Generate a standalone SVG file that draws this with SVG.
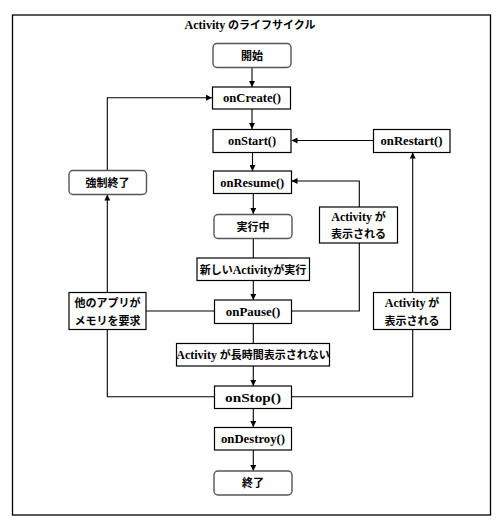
<svg xmlns="http://www.w3.org/2000/svg" width="504" height="528" viewBox="0 0 504 528">
<style>
  text { font-family: "Liberation Serif", "Noto Sans CJK JP", serif; font-weight: bold; font-size: 11px; fill: #000; text-anchor: middle; }
  .m { font-size: 12.5px; }
  .a { font-size: 12px; }
  .box { fill: #fff; stroke: #000; stroke-width: 1.2; }
  .rbox { fill: #fff; stroke: #555; stroke-width: 1.4; }
  .ln { fill: none; stroke: #000; stroke-width: 1.1; }
  .arr { marker-end: url(#ah); }
</style>
<defs>
  <marker id="ah" markerUnits="userSpaceOnUse" markerWidth="6" markerHeight="6" refX="6" refY="3" orient="auto">
    <path d="M0,0 L6,3 L0,6 z" fill="#000"/>
  </marker>
</defs>
<rect x="0" y="0" width="504" height="528" fill="#fff"/>
<rect x="12.5" y="15" width="478" height="500" fill="none" stroke="#000" stroke-width="1.3"/>
<text x="250" y="29"><tspan class="a">Activity</tspan> のライフサイクル</text>

<g id="connectors">
  <line class="ln arr" x1="252" y1="68" x2="252" y2="87"/>
  <line class="ln arr" x1="252" y1="109" x2="252" y2="129"/>
  <line class="ln arr" x1="252.5" y1="152" x2="252.5" y2="171"/>
  <line class="ln arr" x1="373" y1="140.5" x2="291.5" y2="140.5"/>
  <polyline class="ln arr" points="107.3,170 107.3,97.7 212,97.7"/>
  <line class="ln arr" x1="253.3" y1="193" x2="253.3" y2="214"/>
  <line class="ln" x1="253.3" y1="238" x2="253.3" y2="258"/>
  <line class="ln arr" x1="253.3" y1="280" x2="253.3" y2="300"/>
  <polyline class="ln" points="291,311 359.3,311 359.3,243"/>
  <polyline class="ln arr" points="359.3,207 359.3,181 291.5,181"/>
  <line class="ln" x1="214" y1="311" x2="146" y2="311"/>
  <line class="ln arr" x1="107.3" y1="292" x2="107.3" y2="194.5"/>
  <polyline class="ln" points="107.3,329 107.3,396.7 214,396.7"/>
  <line class="ln" x1="253.3" y1="323" x2="253.3" y2="343"/>
  <line class="ln arr" x1="253.3" y1="366" x2="253.3" y2="386"/>
  <polyline class="ln" points="291,396.7 412.7,396.7 412.7,329"/>
  <line class="ln arr" x1="412.7" y1="292" x2="412.7" y2="152.5"/>
  <line class="ln arr" x1="253.3" y1="408" x2="253.3" y2="427"/>
  <line class="ln arr" x1="253.3" y1="450" x2="253.3" y2="471"/>
</g>

<g id="start"><rect class="rbox" x="213" y="43.5" width="78" height="24" rx="4"/><text x="252" y="59.5">開始</text></g>
<g id="onCreate"><rect class="box" x="212.5" y="87" width="78" height="22"/><text class="m" x="252" y="102" textLength="58" lengthAdjust="spacingAndGlyphs">onCreate()</text></g>
<g id="onStart"><rect class="box" x="213" y="129.5" width="78" height="23"/><text class="m" x="252" y="145" textLength="48" lengthAdjust="spacingAndGlyphs">onStart()</text></g>
<g id="onRestart"><rect class="box" x="373.5" y="129.5" width="76.5" height="23"/><text class="m" x="411.5" y="145" textLength="62" lengthAdjust="spacingAndGlyphs">onRestart()</text></g>
<g id="onResume"><rect class="box" x="213.5" y="171" width="78" height="22.5"/><text class="m" x="252.3" y="186.5" textLength="64" lengthAdjust="spacingAndGlyphs">onResume()</text></g>
<g id="forceKill"><rect class="rbox" x="69" y="170.5" width="77.5" height="24" rx="4"/><text x="107.5" y="186.5">強制終了</text></g>
<g id="running"><rect class="rbox" x="214" y="214.5" width="78" height="24" rx="4"/><text x="253" y="230.5">実行中</text></g>
<g id="visible1"><rect class="box" x="319.5" y="207" width="78" height="36"/><text x="358.5" y="220.5"><tspan class="a">Activity</tspan> が</text><text x="358.5" y="238">表示される</text></g>
<g id="newActivity"><rect class="box" x="197" y="258" width="112.5" height="22.5"/><text x="253" y="273.5">新しい<tspan class="a">Activity</tspan>が実行</text></g>
<g id="otherApp"><rect class="box" x="69" y="292.5" width="77" height="37"/><text x="107.5" y="307">他のアプリが</text><text x="107.5" y="324.5">メモリを要求</text></g>
<g id="onPause"><rect class="box" x="214.5" y="300" width="77" height="23.5"/><text class="m" x="253" y="315.5" textLength="54.5" lengthAdjust="spacingAndGlyphs">onPause()</text></g>
<g id="visible2"><rect class="box" x="373.5" y="292.5" width="77" height="37"/><text x="412" y="307"><tspan class="a">Activity</tspan> が</text><text x="412" y="324.5">表示される</text></g>
<g id="notVisible"><rect class="box" x="176.5" y="343.5" width="153" height="22.5"/><text x="253" y="358.5"><tspan class="a">Activity</tspan> が長時間表示されない</text></g>
<g id="onStop"><rect class="box" x="214.5" y="386" width="77" height="22.5"/><text class="m" x="253" y="401.5" textLength="56" lengthAdjust="spacingAndGlyphs">onStop()</text></g>
<g id="onDestroy"><rect class="box" x="214.5" y="427.5" width="77" height="22.5"/><text class="m" x="253" y="443" textLength="64" lengthAdjust="spacingAndGlyphs">onDestroy()</text></g>
<g id="end"><rect class="rbox" x="214" y="471" width="78" height="24" rx="4"/><text x="253" y="487">終了</text></g>
</svg>
